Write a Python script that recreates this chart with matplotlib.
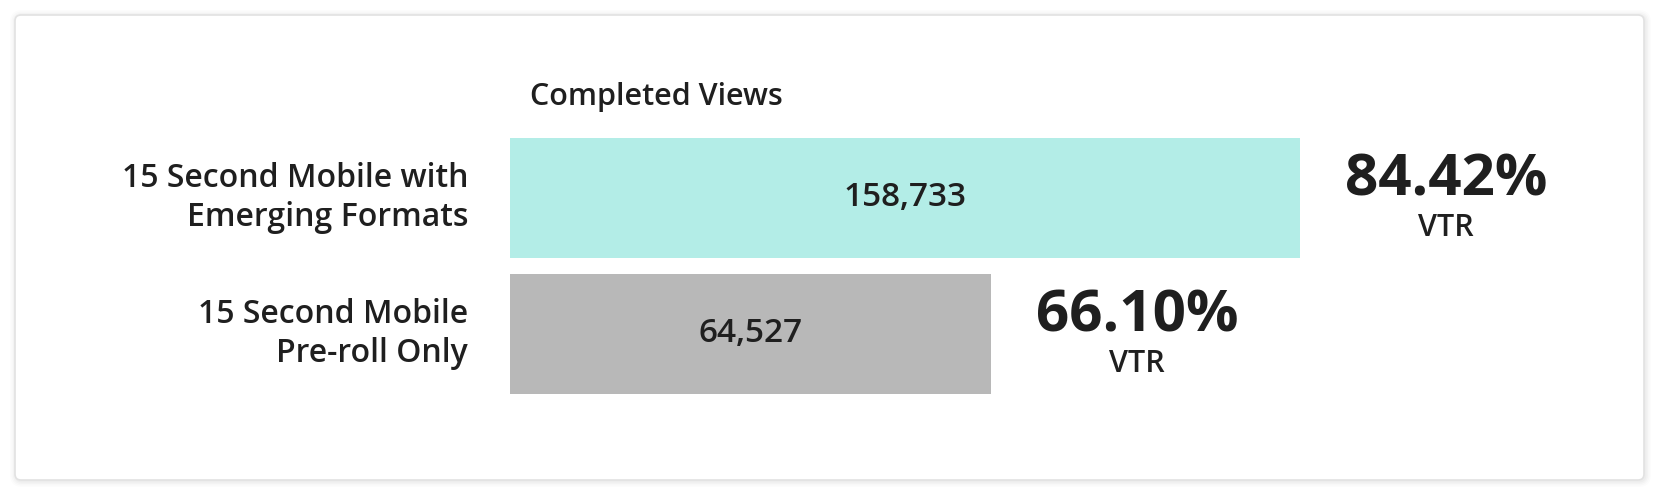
import numpy as np
import matplotlib
matplotlib.use("Agg")
import matplotlib.pyplot as plt
from matplotlib.patches import FancyBboxPatch

categories = ["15 Second Mobile with\nEmerging Formats", "15 Second Mobile\nPre-roll Only"]
completed_views = [158733, 64527]
vtr = [84.42, 66.10]
bar_colors = ["#b3ede7", "#b8b8b8"]
header = "Completed Views"

W, H = 1660, 496
DPI = 100
plt.rcParams['font.family'] = ['Open Sans', 'DejaVu Sans']
TXT = "#1f1f1f"

fig = plt.figure(figsize=(W / DPI, H / DPI), dpi=DPI)
fig.patch.set_facecolor("white")

def px(x0, y0, x1, y1):
    return [x0 / W, 1 - y1 / H, (x1 - x0) / W, (y1 - y0) / H]

# card with soft shadow
for i, a in enumerate([0.025, 0.02, 0.015, 0.01]):
    d = (i + 1) * 1.5
    fig.patches.append(FancyBboxPatch((15 - d + 1, H - 480 - d - 1), 1629 + 2 * d, 465 + 2 * d,
                                      boxstyle="round,pad=0,rounding_size=%f" % (6 + d),
                                      transform=None, facecolor=(0, 0, 0, a), edgecolor="none", zorder=0))
fig.patches.append(FancyBboxPatch((15, H - 480), 1629, 465,
                                  boxstyle="round,pad=0,rounding_size=6",
                                  transform=None, facecolor="white", edgecolor="#e2e2e2",
                                  linewidth=1.2, zorder=1))

p = 0.5513
def fwd(x):
    x = np.asarray(x, dtype=float)
    return np.sign(x) * np.abs(x) ** p
def inv(x):
    x = np.asarray(x, dtype=float)
    return np.sign(x) * np.abs(x) ** (1 / p)

ax = fig.add_axes(px(510, 130, 1300, 402))
ax.set_zorder(2)
ax.patch.set_alpha(0)
ax.set_xscale('function', functions=(fwd, inv))
ax.set_xlim(0, max(completed_views))
ypos = np.arange(len(categories))
ax.set_ylim(1 + 68 / 136, -68 / 136)
ax.barh(ypos, completed_views, height=120 / 136, color=bar_colors, edgecolor="none")
for s in ax.spines.values():
    s.set_visible(False)
ax.set_xticks([])
ax.set_yticks([])
ax.xaxis.set_minor_locator(matplotlib.ticker.NullLocator())

for y, cat, v, r in zip(ypos, categories, completed_views, vtr):
    ax.annotate(cat, xy=(0, y), xytext=(-42, 0), textcoords='offset pixels',
                ha='right', va='center', ma='right', fontsize=23, fontweight='semibold',
                color=TXT, linespacing=1.22)
    ax.text(inv((fwd(0) + fwd(v)) / 2), y, f"{v:,}", ha='center', va='center',
            fontsize=24, fontweight='semibold', color=TXT)
    ax.annotate(f"{r:.2f}%", xy=(v, y), xytext=(146, 18), textcoords='offset pixels',
                ha='center', va='center', fontsize=42, fontweight='bold', color=TXT)
    ax.annotate("VTR", xy=(v, y), xytext=(146, -30), textcoords='offset pixels',
                ha='center', va='center', fontsize=22, fontweight='semibold', color=TXT)

fig.text(530 / W, 1 - 97 / H, header, ha='left', va='center', fontsize=22,
         fontweight='semibold', color=TXT)

fig.savefig("out.png", dpi=DPI, facecolor="white")
